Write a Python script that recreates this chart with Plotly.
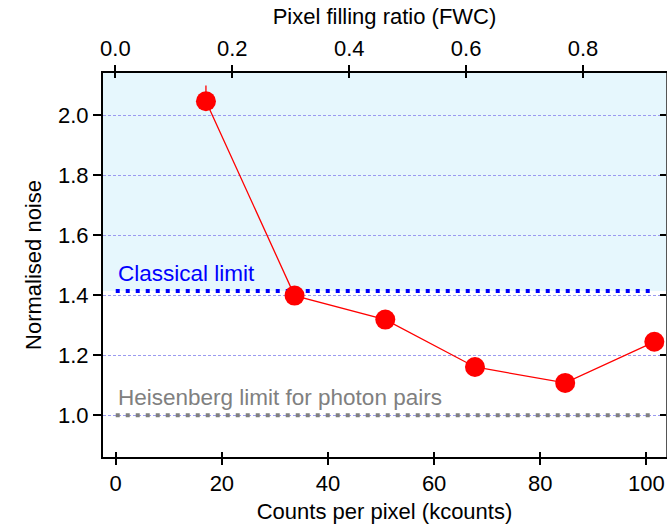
import plotly.graph_objects as go
import math

# Data
counts_k = [17.0, 33.7, 50.8, 67.7, 84.7, 101.5]
noise = [2.047, 1.399, 1.319, 1.161, 1.108, 1.245]
noise_err_plus = [0.052, 0.02, 0.02, 0.02, 0.02, 0.02]
noise_err_minus = [0.02, 0.02, 0.02, 0.02, 0.02, 0.02]
classical_limit = math.sqrt(2)
heisenberg_limit = 1.0
limit_x = [0, 101.5]
x_ticks = [0, 20, 40, 60, 80, 100]
y_ticks = [1.0, 1.2, 1.4, 1.6, 1.8, 2.0]
fwc_ticks = [0.0, 0.2, 0.4, 0.6, 0.8]

XR = [-2.4, 103.7]
YR = [0.861, 2.141]
FWCR = [-0.0212, 0.942]

FONT = "Liberation Sans, Arial, Helvetica, sans-serif"

fig = go.Figure()

# limit lines
fig.add_trace(go.Scatter(x=limit_x, y=[classical_limit]*2, mode="lines",
                         line=dict(color="#0000ff", width=4, dash="4px,6px"),
                         hoverinfo="skip", showlegend=False))
fig.add_trace(go.Scatter(x=limit_x, y=[heisenberg_limit]*2, mode="lines",
                         line=dict(color="#808080", width=4, dash="4px,6px"),
                         hoverinfo="skip", showlegend=False))

# data
fig.add_trace(go.Scatter(x=counts_k, y=noise, mode="lines+markers",
                         line=dict(color="#ff0000", width=1.3),
                         marker=dict(color="#ff0000", size=20),
                         error_y=dict(type="data", symmetric=False, array=noise_err_plus,
                                      arrayminus=noise_err_minus, color="#ff0000",
                                      thickness=1.3, width=0),
                         showlegend=False))

# dummy traces for overlay axes
fig.add_trace(go.Scatter(x=[0.5], y=[1.5], xaxis="x2", yaxis="y", mode="markers",
                         marker=dict(opacity=0), hoverinfo="skip", showlegend=False))
fig.add_trace(go.Scatter(x=[50], y=[1.5], xaxis="x3", yaxis="y", mode="markers",
                         marker=dict(opacity=0), hoverinfo="skip", showlegend=False))
fig.add_trace(go.Scatter(x=[0.5], y=[1.5], xaxis="x4", yaxis="y", mode="markers",
                         marker=dict(opacity=0), hoverinfo="skip", showlegend=False))
fig.add_trace(go.Scatter(x=[50], y=[1.5], xaxis="x", yaxis="y2", mode="markers",
                         marker=dict(opacity=0), hoverinfo="skip", showlegend=False))

# shaded classical region
fig.add_shape(type="rect", xref="paper", yref="y", x0=0, x1=1,
              y0=classical_limit, y1=YR[1], fillcolor="#e6f7fd",
              line=dict(width=0), layer="below")

fig.add_annotation(x=0, y=classical_limit, xref="x", yref="y", text="Classical limit",
                   showarrow=False, xanchor="left", yanchor="bottom", yshift=3,
                   font=dict(family=FONT, size=22.5, color="#0000ff"))
fig.add_annotation(x=0, y=heisenberg_limit, xref="x", yref="y",
                   text="Heisenberg limit for photon pairs",
                   showarrow=False, xanchor="left", yanchor="bottom", yshift=3,
                   font=dict(family=FONT, size=22.5, color="#808080"))

axis_font = dict(family=FONT, size=22, color="black")

fig.update_layout(
    width=667, height=527,
    margin=dict(l=103, r=1, t=73, b=70),
    paper_bgcolor="white", plot_bgcolor="white",
    font=dict(family=FONT, size=22, color="black"),
    xaxis=dict(range=XR, tickvals=x_ticks, ticks="outside", ticklen=6, tickwidth=2,
               tickcolor="black", showline=True, linecolor="black", linewidth=2,
               showgrid=False, zeroline=False, tickfont=axis_font,
               title=dict(text="Counts per pixel (kcounts)", font=axis_font, standoff=8)),
    xaxis2=dict(range=FWCR, tickvals=fwc_ticks, tickformat=".1f", overlaying="x",
                side="top", anchor="y", ticks="outside", ticklen=6, tickwidth=2,
                tickcolor="black", showline=True, linecolor="black", linewidth=2,
                showgrid=False, zeroline=False, tickfont=axis_font,
                title=dict(text="Pixel filling ratio (FWC)", font=axis_font, standoff=6)),
    xaxis3=dict(range=XR, tickvals=x_ticks, overlaying="x", side="bottom", anchor="y",
                ticks="inside", ticklen=5, tickwidth=2, tickcolor="black",
                showticklabels=False, showgrid=False, zeroline=False, showline=False),
    xaxis4=dict(range=FWCR, tickvals=fwc_ticks, overlaying="x", side="top", anchor="y",
                ticks="inside", ticklen=5, tickwidth=2, tickcolor="black",
                showticklabels=False, showgrid=False, zeroline=False, showline=False),
    yaxis=dict(range=YR, tickvals=y_ticks, tickformat=".1f", ticks="outside", ticklen=8,
               tickwidth=2, tickcolor="black", showline=True, linecolor="black",
               linewidth=2, showgrid=True, gridcolor="#9a9af0", griddash="3px,2px",
               gridwidth=1, zeroline=False, tickfont=axis_font,
               title=dict(text="Normalised noise", font=axis_font, standoff=10)),
    yaxis2=dict(range=YR, tickvals=y_ticks, overlaying="y", side="right", anchor="x",
                ticks="inside", ticklen=6, tickwidth=2, tickcolor="black",
                showticklabels=False, showgrid=False, zeroline=False, showline=True,
                linecolor="#555555", linewidth=1),
)

fig.write_html("out.html")
